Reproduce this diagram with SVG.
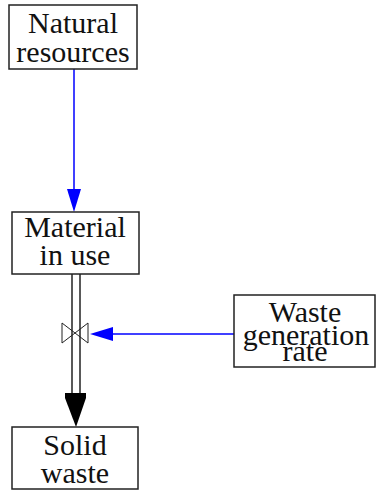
<svg xmlns="http://www.w3.org/2000/svg" width="376" height="491" viewBox="0 0 376 491">
<style>
.box{fill:#fff;stroke:#222;stroke-width:1.5}
.t{font-family:"Liberation Serif","Times New Roman",serif;font-size:30px;fill:#111;text-anchor:middle}
.link{stroke:#0000ff;stroke-width:1.5;fill:none}
.head{fill:#0000ff}
.pipe{stroke:#222;stroke-width:1.5;fill:none}
</style>
<rect width="376" height="491" fill="#fff"/>
<g id="connectors">
<line class="link" x1="74" y1="69" x2="74" y2="195"/>
<path class="head" d="M67,189 L81,189 L74,212 Z"/>
<line class="link" x1="234" y1="334" x2="108" y2="334"/>
<path class="head" d="M113,327 L113,341 L90,334 Z"/>
<line class="pipe" x1="72" y1="274" x2="72" y2="395"/>
<line class="pipe" x1="80" y1="274" x2="80" y2="395"/>
<g id="valve">
<path d="M62,323 L62,343 L88,323 L88,343 Z" fill="none" stroke="#222" stroke-width="1"/>
</g>
<path d="M65,393 L86,393 L86,398 L76,427 L65,398 Z" fill="#000"/>
</g>
<g id="natural-resources">
<rect class="box" x="9" y="5" width="128" height="64"/>
<text class="t" x="73" y="33">Natural</text>
<text class="t" x="73" y="62">resources</text>
</g>
<g id="material-in-use">
<rect class="box" x="12" y="212" width="127" height="62"/>
<text class="t" x="75" y="237">Material</text>
<text class="t" x="75" y="265">in use</text>
</g>
<g id="waste-generation-rate">
<rect class="box" x="234" y="295" width="141" height="72"/>
<text class="t" x="305" y="322">Waste</text>
<text class="t" x="306" y="345">generation</text>
<text class="t" x="305" y="361">rate</text>
</g>
<g id="solid-waste">
<rect class="box" x="12" y="427" width="126" height="62"/>
<text class="t" x="75" y="455">Solid</text>
<text class="t" x="75" y="483">waste</text>
</g>
</svg>
